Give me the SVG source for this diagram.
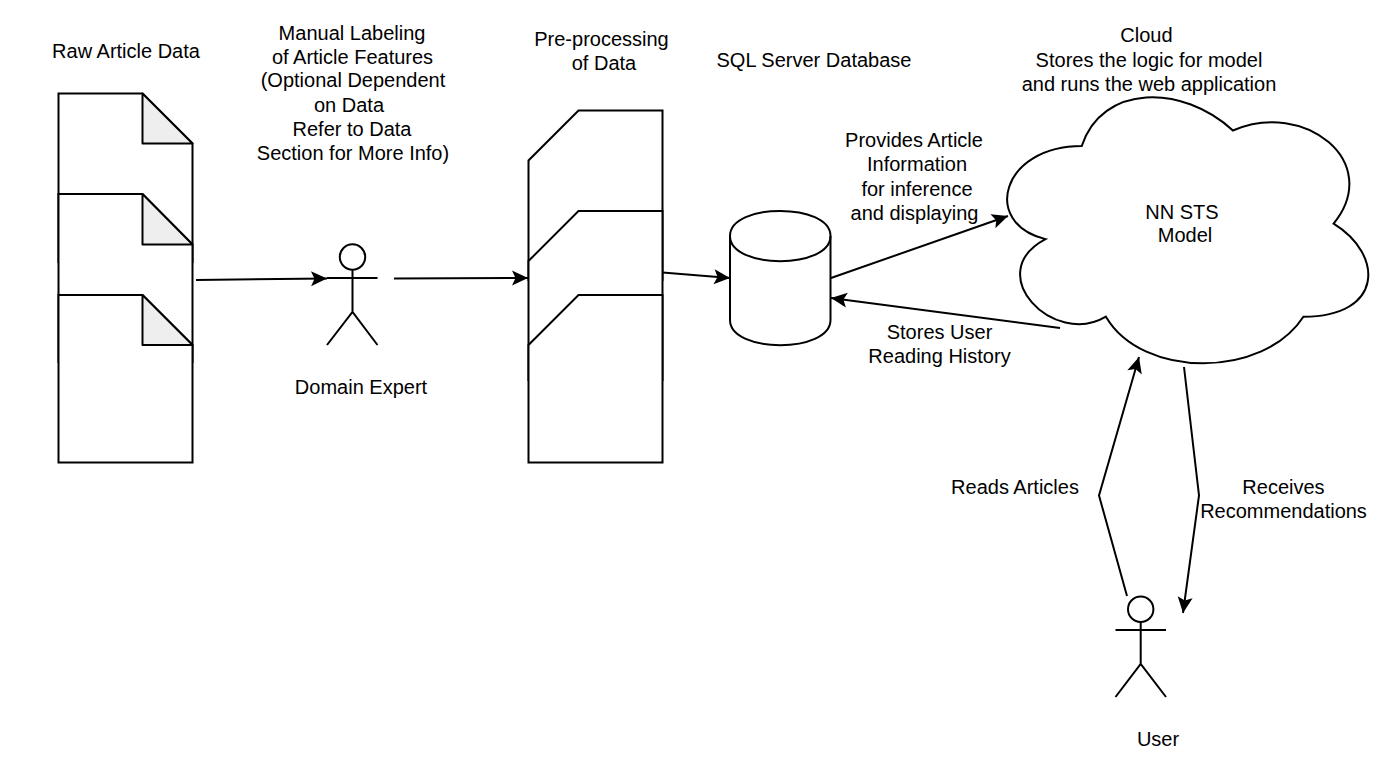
<svg xmlns="http://www.w3.org/2000/svg" width="1392" height="769" viewBox="0 0 1392 769">
<style>
.s{fill:#fff;stroke:#000;stroke-width:2}
.f{fill:#eee;stroke:#000;stroke-width:2;stroke-linejoin:round}
.a{fill:none;stroke:#000;stroke-width:2}
.c{fill:none;stroke:#000;stroke-width:2;marker-end:url(#arrow)}
text{font-family:"Liberation Sans",Arial,sans-serif;font-size:20px;fill:#000;text-anchor:middle}
</style>
<defs>
<marker id="arrow" markerUnits="userSpaceOnUse" viewBox="0 0 18 18" markerWidth="18" markerHeight="18" refX="16.500" refY="9" orient="auto">
<path d="M16.500 9L0.500 1.500L4 9L0.500 16.500Z" fill="#000"/>
</marker>
</defs>
<rect width="1392" height="769" fill="#fff"/>
<g id="raw-data">
<path class="s" d="M58.5 93.5H142.5L192.5 143.5V262H58.5Z"/>
<path class="f" d="M142.5 93.5V143.5H192.5Z"/>
<path class="s" d="M58.5 194H142.5L192.5 244.5V362H58.5Z"/>
<path class="f" d="M142.5 194V244.5H192.5Z"/>
<path class="s" d="M58.5 295H142.5L192.5 345V462.5H58.5Z"/>
<path class="f" d="M142.5 295V345H192.5Z"/>
<text x="126" y="58">Raw Article Data</text>
</g>
<g id="domain-expert">
<circle class="s" cx="352.5" cy="257" r="12.7"/>
<path class="a" d="M352.5 270V312M327 278H377.5M327 345L352.5 312L377.5 345"/>
<text x="361" y="394">Domain Expert</text>
</g>
<g id="labeling-label">
<text x="352" y="40">Manual Labeling</text>
<text x="352.500" y="64">of Article Features</text>
<text x="353" y="87">(Optional Dependent</text>
<text x="349" y="112">on Data</text>
<text x="352" y="136">Refer to Data</text>
<text x="353" y="160">Section for More Info)</text>
</g>
<g id="preprocessing">
<path class="s" d="M578.5 110.5H662.5V280H528.5V160.5Z"/>
<path class="s" d="M578.5 211H662.5V380H528.5V261Z"/>
<path class="s" d="M578.5 295H662.5V462.5H528.5V345Z"/>
<text x="601.500" y="46">Pre-processing</text>
<text x="604" y="70">of Data</text>
</g>
<g id="database">
<path class="s" d="M730 236C730 202.500 830.500 202.500 830.500 236V320C830.500 353.500 730 353.500 730 320Z"/>
<path class="a" d="M730 236C730 269.500 830.500 269.500 830.500 236"/>
<text x="814" y="67">SQL Server Database</text>
</g>
<g id="cloud">
<path class="s" d="M1081.75 146C1001.15 146 981 223.6 1045.48 239.1C981 273.3 1053.54 347.8 1105.93 316.7C1142.2 378.8 1263.1 378.8 1303.4 316.7C1384 316.7 1384 254.6 1333.6 223.6C1384 161.5 1303.4 99.4 1232.9 130.5C1182.5 83.9 1101.9 83.9 1081.75 146Z"/>
<text x="1182" y="219">NN STS</text>
<text x="1185" y="242">Model</text>
<text x="1146.500" y="42">Cloud</text>
<text x="1149" y="67">Stores the logic for model</text>
<text x="1149" y="91">and runs the web application</text>
</g>
<g id="user">
<circle class="s" cx="1140.700" cy="609.300" r="12.7"/>
<path class="a" d="M1140.700 622V664M1115.500 630H1166M1115.500 697L1140.700 664L1166 697"/>
<text x="1158" y="746">User</text>
</g>
<g id="connectors">
<path class="c" d="M196 280L327 278.500"/>
<path class="c" d="M394 278.500L528 278"/>
<path class="c" d="M662.500 272.500L730 278"/>
<path class="c" d="M831 278L1008 216"/>
<path class="c" d="M1060 328L831 298"/>
<path class="c" d="M1127 596L1099 495.500L1139 357"/>
<path class="c" d="M1184 367L1199 495.500L1183 613"/>
</g>
<g id="connector-labels">
<text x="914" y="147">Provides Article</text>
<text x="917" y="171">Information</text>
<text x="917" y="196">for inference</text>
<text x="914.500" y="220">and displaying</text>
<text x="939.500" y="339">Stores User</text>
<text x="939.500" y="363">Reading History</text>
<text x="1015" y="494">Reads Articles</text>
<text x="1283.500" y="494">Receives</text>
<text x="1283.500" y="518">Recommendations</text>
</g>
</svg>
